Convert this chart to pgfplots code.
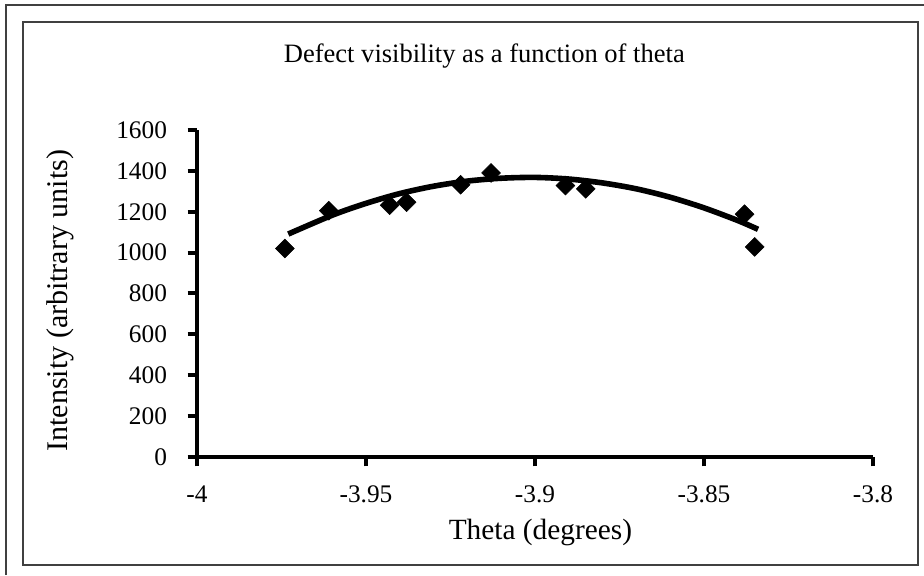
\documentclass[border=0pt]{standalone}
\usepackage{fontspec}
\setmainfont{Liberation Serif}
\usepackage{pgfplots}
\pgfplotsset{compat=1.18}

\pgfplotstableread{
x        y
-3.973   1091
-3.960   1183
-3.950   1241
-3.940   1289
-3.930   1325
-3.920   1350
-3.910   1364
-3.900   1368
-3.890   1360
-3.880   1341
-3.870   1312
-3.860   1271
-3.850   1219
-3.840   1157
-3.834   1114
}\trendtable

\pgfplotstableread{
x        y
-3.974   1020
-3.961   1205
-3.943   1232
-3.938   1247
-3.922   1332
-3.913   1390
-3.891   1328
-3.885   1312
-3.838   1188
-3.835   1028
}\pointtable

\begin{document}
\begin{tikzpicture}
\begin{scope}[x=0.75pt,y=0.75pt]
\useasboundingbox (0,0) rectangle (924,575);
% scanned frames
\draw[line width=1.2pt, black!75] (6,0) -- (6,570) -- (924,570);
\draw[line width=1.2pt, black!75] (23,10) rectangle (918,553);
\end{scope}

\begin{axis}[
    at={(147.75pt,88.5pt)}, anchor=south west,
    scale only axis,
    width=507pt, height=245.25pt,
    xmin=-4, xmax=-3.8, ymin=0, ymax=1600,
    axis lines=left,
    axis line style={line width=3pt, -},
    every tick/.style={line width=3pt, black},
    tick align=outside,
    major tick length=7pt,
    xtick={-4,-3.95,-3.9,-3.85,-3.8},
    xticklabels={-4,-3.95,-3.9,-3.85,-3.8},
    ytick={0,200,400,600,800,1000,1200,1400,1600},
    yticklabels={0,200,400,600,800,1000,1200,1400,1600},
    ticklabel style={font=\fontsize{19}{19}\selectfont},
    xticklabel style={yshift=-11pt},
    yticklabel style={xshift=-12pt},
    xlabel={Theta (degrees)},
    ylabel={Intensity (arbitrary units)},
    xlabel style={at={(axis description cs:0.508,-0.232)}, anchor=center, font=\fontsize{22}{22}\selectfont},
    ylabel style={at={(axis description cs:-0.2015,0.478)}, anchor=center, rotate=0, font=\fontsize{22.5}{22.5}\selectfont},
    title={Defect visibility as a function of theta},
    title style={at={(axis description cs:0.425,1.203)}, anchor=center, font=\fontsize{19.9}{19.9}\selectfont},
    clip=false,
]
\addplot[black, line width=4.2pt, smooth, no marks] table[x=x,y=y] {\trendtable};
\addplot[only marks, mark=square*, mark size=5pt, mark options={rotate=45, fill=black, draw=black}] table[x=x,y=y] {\pointtable};
\end{axis}
\end{tikzpicture}
\end{document}
